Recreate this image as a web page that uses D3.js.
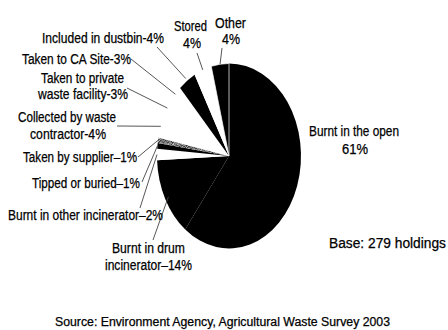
<!DOCTYPE html>
<html>
<head>
<meta charset="utf-8">
<script src="https://cdn.jsdelivr.net/npm/d3@7"></script>
<style>
  html, body { margin: 0; padding: 0; background: #fff; }
  svg { display: block; }
  text { font-family: "Liberation Sans", Arial, sans-serif; fill: #000; stroke: #000; stroke-width: 0.25px; }
</style>
</head>
<body>
<svg id="chart" width="448" height="330"></svg>
<script>
// Disposal routes for waste packaging, share of holdings (%)
const categories = [
  "Burnt in the open",
  "Burnt in drum incinerator",
  "Burnt in other incinerator",
  "Tipped or buried",
  "Taken by supplier",
  "Collected by waste contractor",
  "Taken to private waste facility",
  "Taken to CA Site",
  "Included in dustbin",
  "Stored",
  "Other"
];
const shares = [61, 14, 2, 1, 1, 4, 3, 3, 4, 4, 4];
const baseNote = "Base: 279 holdings";
const sourceNote = "Source: Environment Agency, Agricultural Waste Survey 2003";

// Slice fills
const fillStyle = {
  "Burnt in the open": "#000",
  "Burnt in drum incinerator": "#000",
  "Burnt in other incinerator": "#fff",
  "Tipped or buried": "#000",
  "Taken by supplier": "url(#stipple)",
  "Collected by waste contractor": "#fff",
  "Taken to private waste facility": "#fff",
  "Taken to CA Site": "#fff",
  "Included in dustbin": "#000",
  "Stored": "#fff",
  "Other": "#000"
};
// Only the "Other" wedge carries a fine white outline
const outlined = new Set(["Other"]);

// Label layout: text lines (built from the value), left x, baseline, fitted width, leader start
const labelLayout = {
  "Burnt in the open": { lines: v => ["Burnt in the open", v + "%"], pos: [[309, 136, 90], [342, 154, 26]] },
  "Burnt in drum incinerator": { lines: v => ["Burnt in drum", "incinerator\u2013" + v + "%"], pos: [[112, 253, 73], [105, 270, 87]], from: [153, 240], k: 0.95 },
  "Burnt in other incinerator": { lines: v => ["Burnt in other incinerator\u2013" + v + "%"], pos: [[8, 220, 155]], from: [140, 208], k: 1 },
  "Tipped or buried": { lines: v => ["Tipped or buried\u2013" + v + "%"], pos: [[32, 188, 108]], from: [142, 182], k: 1 },
  "Taken by supplier": { lines: v => ["Taken by supplier\u2013" + v + "%"], pos: [[23, 162, 114]], from: [138, 157], k: 1 },
  "Collected by waste contractor": { lines: v => ["Collected by waste", "contractor-" + v + "%"], pos: [[18, 122, 98], [30, 139, 76]], from: [117, 126], k: 1 },
  "Taken to private waste facility": { lines: v => ["Taken to private", "waste facility-" + v + "%"], pos: [[41, 83, 83], [38, 99, 90]], from: [127, 88], k: 1 },
  "Taken to CA Site": { lines: v => ["Taken to CA Site-" + v + "%"], pos: [[22, 64, 109]], from: [131, 59], k: 1 },
  "Included in dustbin": { lines: v => ["Included in dustbin-" + v + "%"], pos: [[42, 43, 122]], from: [157, 47], k: 1.03 },
  "Stored": { lines: v => ["Stored", v + "%"], pos: [[174, 31, 33], [183, 48, 18]], from: [197, 53], k: 1 },
  "Other": { lines: v => ["Other", v + "%"], pos: [[215, 28, 31], [222, 44, 18]], from: [222, 48], k: 1 }
};

const cx = 229, cy = 156, rx = 72, ry = 92.5;
const svg = d3.select("#chart");

// Speckled fill
const defs = svg.append("defs");
const pat = defs.append("pattern")
  .attr("id", "stipple")
  .attr("patternUnits", "userSpaceOnUse")
  .attr("width", 6).attr("height", 6);
pat.append("rect").attr("width", 6).attr("height", 6).attr("fill", "#3a3a3a");
[[0,0],[2,0],[5,0],[1,1],[3,1],[4,2],[0,2],[2,3],[5,3],[1,4],[3,4],[4,5],[0,5],[2,5]]
  .forEach(([x, y]) => pat.append("rect")
    .attr("x", x).attr("y", y).attr("width", 1).attr("height", 1).attr("fill", "#d6d6d6"));

const pie = d3.pie().sort(null).value(d => d.value).startAngle(0).endAngle(2 * Math.PI);
const arcs = pie(categories.map((c, i) => ({ name: c, value: shares[i] })));
const arc = d3.arc().innerRadius(0).outerRadius(ry);

const pieG = svg.append("g")
  .attr("transform", `translate(${cx},${cy}) scale(${rx / ry},1)`);
pieG.selectAll("path")
  .data(arcs)
  .join("path")
  .attr("d", arc)
  .attr("fill", d => fillStyle[d.data.name])
  .attr("stroke", d => outlined.has(d.data.name) ? "#fff" : "none")
  .attr("stroke-width", 0.7)
  .attr("vector-effect", "non-scaling-stroke");

// Leader lines from labels to their slice edge
const pointOn = (d, k) => {
  const a = (d.startAngle + d.endAngle) / 2;
  return [cx + Math.sin(a) * rx * k, cy - Math.cos(a) * ry * k];
};
const leaders = arcs.filter(d => labelLayout[d.data.name].from);
svg.append("g").selectAll("line")
  .data(leaders)
  .join("line")
  .attr("x1", d => labelLayout[d.data.name].from[0])
  .attr("y1", d => labelLayout[d.data.name].from[1])
  .attr("x2", d => pointOn(d, labelLayout[d.data.name].k)[0])
  .attr("y2", d => pointOn(d, labelLayout[d.data.name].k)[1])
  .attr("stroke", "#444")
  .attr("stroke-width", 0.9);

// Slice labels
const labelG = svg.append("g");
arcs.forEach(d => {
  const lay = labelLayout[d.data.name];
  lay.lines(d.data.value).forEach((t, i) => {
    const [x, y, w] = lay.pos[i];
    labelG.append("text")
      .attr("x", x).attr("y", y)
      .attr("font-size", 14)
      .attr("textLength", w)
      .attr("lengthAdjust", "spacingAndGlyphs")
      .text(t);
  });
});

// Notes
svg.append("text")
  .attr("x", 329).attr("y", 248)
  .attr("font-size", 14)
  .attr("textLength", 117)
  .attr("lengthAdjust", "spacingAndGlyphs")
  .text(baseNote);
svg.append("text")
  .attr("x", 55).attr("y", 326)
  .attr("font-size", 12)
  .attr("textLength", 335)
  .attr("lengthAdjust", "spacingAndGlyphs")
  .text(sourceNote);
</script>
</body>
</html>
